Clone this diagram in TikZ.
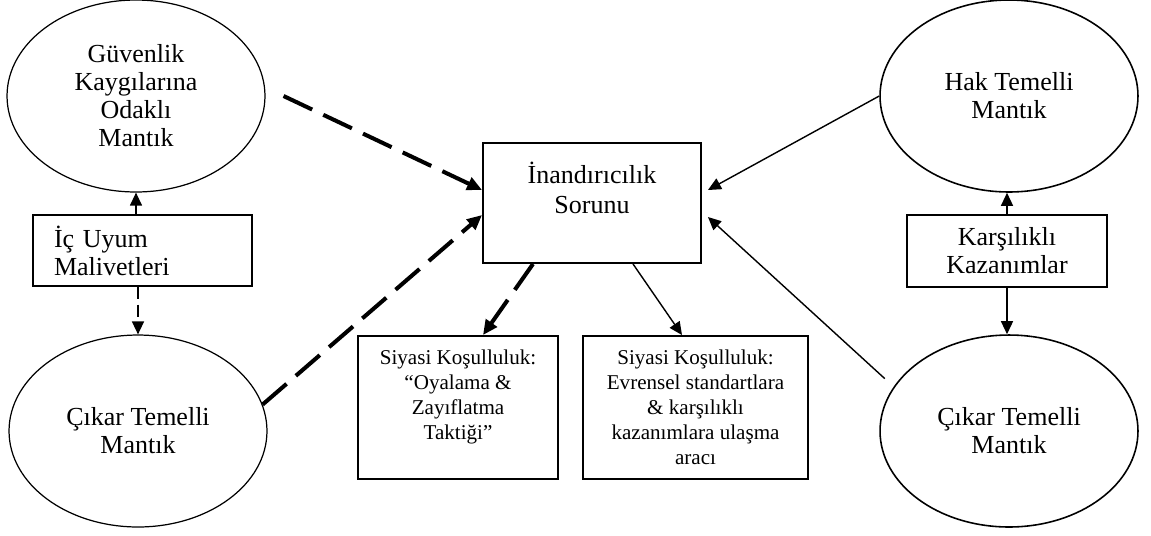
\documentclass[tikz,border=0pt]{standalone}
\usepackage{fontspec}
\setmainfont{Liberation Serif}
\usetikzlibrary{shapes.geometric,arrows.meta,calc}

\tikzset{
  ovalnode/.style={ellipse, draw, line width=0.7pt, minimum width=5.16cm, minimum height=3.84cm,
    inner sep=0pt, align=center, font=\fontsize{14.8}{15.9}\selectfont},
  boxnode/.style={rectangle, draw, line width=1.1pt, inner sep=0pt, align=center,
    font=\fontsize{14.8}{15.9}\selectfont},
  smallbox/.style={rectangle, draw, line width=1.1pt, inner sep=0pt, align=center,
    font=\fontsize{12}{14.2}\selectfont},
  bigdash/.style={line width=2.3pt, dash pattern=on 18pt off 7pt,
    -{Triangle[length=8.5pt,width=7.5pt]}},
  thindash/.style={line width=0.9pt, dash pattern=on 7pt off 3pt,
    -{Triangle[length=7.4pt,width=6.8pt]}},
  thinarrow/.style={line width=0.8pt, -{Triangle[length=7.4pt,width=6.8pt]}}
}

\begin{document}
\begin{tikzpicture}[x=0.02cm, y=-0.02cm]
\useasboundingbox (0,0) rectangle (1151,535);

% left side
\node[ovalnode] (gk) at (136,96) {Güvenlik\\Kaygılarına\\Odaklı\\Mantık};
\node[ovalnode] (ck) at (138,431) {Çıkar Temelli\\Mantık};
\node[boxnode, minimum width=4.38cm, minimum height=1.42cm, text width=3.54cm, align=left,
  inner xsep=0.42cm] (iu) at (142.5,250.5) {İç Uyum\\Malivetleri};

% centre
\node[boxnode, minimum width=4.36cm, minimum height=2.4cm,
  font=\fontsize{14.8}{17}\selectfont] (ins) at (592,203) {İnandırıcılık\\Sorunu\\\mbox{}};
\node[smallbox, minimum width=4cm, minimum height=2.86cm] (sp1) at (458,407.5)
  {Siyasi Koşulluluk:\\“Oyalama \&\\Zayıflatma\\Taktiği”\\\mbox{}};
\node[smallbox, minimum width=4.5cm, minimum height=2.86cm] (sp2) at (695.5,407.5)
  {Siyasi Koşulluluk:\\Evrensel standartlara\\\& karşılıklı\\kazanımlara ulaşma\\aracı};

% right side
\node[ovalnode, line width=0.9pt] (hk) at (1009,96) {Hak Temelli\\Mantık};
\node[ovalnode, line width=0.9pt] (cr) at (1009,431) {Çıkar Temelli\\Mantık};
\node[boxnode, minimum width=4cm, minimum height=1.44cm] (kk) at (1007,251) {Karşılıklı\\Kazanımlar};

% connectors
\draw[bigdash] ($(gk.east)+(18,0)$) -- ($(ins.west)+(0,-13)$);
\draw[bigdash] (ck.12) -- ($(ins.west)+(0,12)$);
\draw[bigdash] ($(ins.south)+(-59,0)$) -- ($(sp1.north)+(25,0)$);
\draw[thinarrow] ($(ins.south)+(41,0)$) -- ($(sp2.north)+(-13.5,0)$);
\draw[thinarrow] (hk.west) -- ($(ins.east)+(6,-13)$);
\draw[thinarrow, shorten <=0.24cm] (cr.159) -- ($(ins.east)+(6,14)$);

\draw[thinarrow] (gk.south |- iu.north) -- (gk.south);
\draw[thindash] (ck.north |- iu.south) -- (ck.north);
\draw[thinarrow] (kk.north) -- (kk.north |- hk.south);
\draw[thinarrow] (kk.south) -- (kk.south |- cr.north);

\end{tikzpicture}
\end{document}
